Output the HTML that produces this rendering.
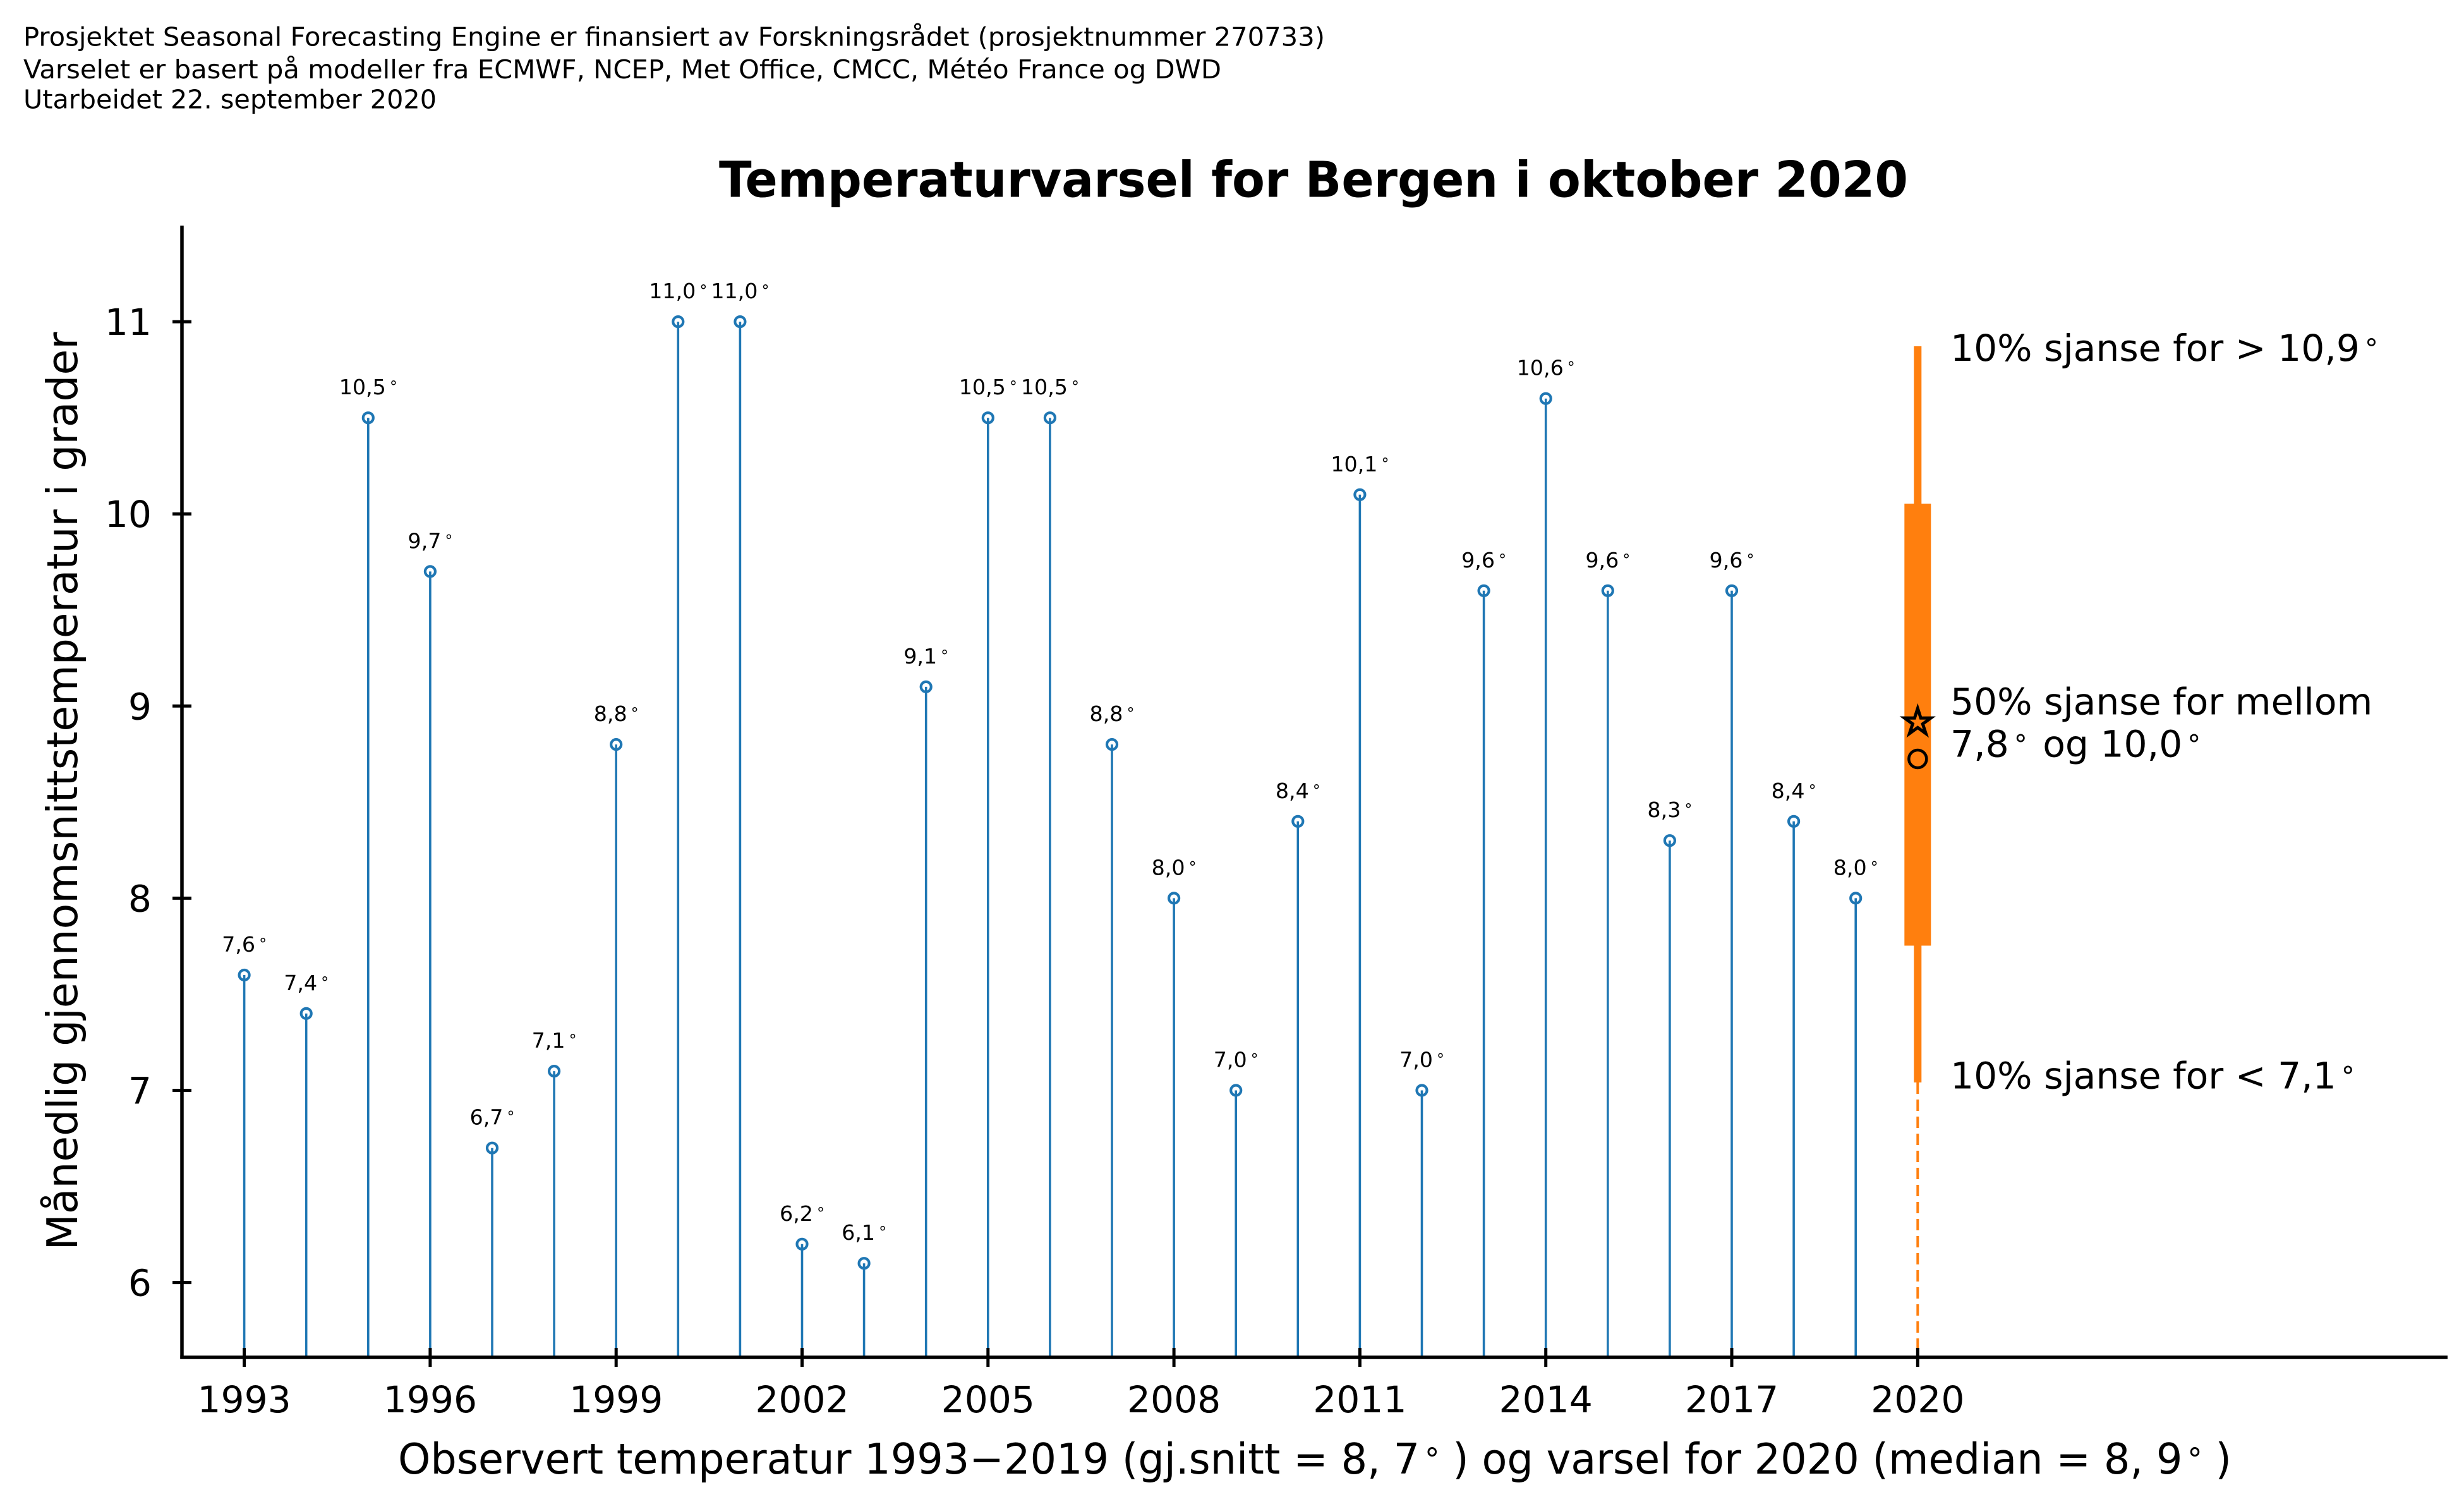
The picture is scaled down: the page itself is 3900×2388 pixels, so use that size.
<!DOCTYPE html>
<html>
<head>
<meta charset="utf-8">
<style>
html,body{margin:0;padding:0;background:#ffffff;}
svg{display:block;}
</style>
</head>
<body>
<svg width="3900" height="2388" viewBox="0 0 3900 2388" xmlns="http://www.w3.org/2000/svg" font-family="'DejaVu Sans', 'Liberation Sans', sans-serif">
<rect x="0" y="0" width="3900" height="2388" fill="#ffffff"/>

<!-- Header -->
<g font-size="41" fill="#000">
<text x="37" y="72.7" textLength="2060" lengthAdjust="spacingAndGlyphs">Prosjektet Seasonal Forecasting Engine er finansiert av Forskningsrådet (prosjektnummer 270733)</text>
<text x="37" y="124" textLength="1896" lengthAdjust="spacingAndGlyphs">Varselet er basert på modeller fra ECMWF, NCEP, Met Office, CMCC, Météo France og DWD</text>
<text x="37" y="171.7" textLength="654" lengthAdjust="spacingAndGlyphs">Utarbeidet 22. september 2020</text>
</g>

<!-- Title -->
<text x="2079" y="311.6" text-anchor="middle" font-size="78" font-weight="bold" textLength="1882" lengthAdjust="spacingAndGlyphs">Temperaturvarsel for Bergen i oktober 2020</text>

<!-- Stems -->
<path fill="none" stroke="#1f77b4" stroke-width="3.6" d="
M386.6 2148V1543.0 M484.7 2148V1603.9 M582.8 2148V661.2 M680.9 2148V904.4
M779.0 2148V1816.7 M877.1 2148V1695.1 M975.2 2148V1178.1 M1073.3 2148V509.1
M1171.4 2148V509.1 M1269.5 2148V1968.8 M1367.6 2148V1999.2 M1465.7 2148V1086.9
M1563.8 2148V661.2 M1661.9 2148V661.2 M1760.0 2148V1178.1 M1858.1 2148V1421.4
M1956.2 2148V1725.5 M2054.3 2148V1299.8 M2152.4 2148V782.8 M2250.5 2148V1725.5
M2348.6 2148V934.8 M2446.7 2148V630.7 M2544.8 2148V934.8 M2642.9 2148V1330.2
M2741.0 2148V934.8 M2839.1 2148V1299.8 M2937.2 2148V1421.4"/>

<!-- Markers -->
<g fill="none" stroke="#1f77b4" stroke-width="4.2">
<circle cx="386.6" cy="1543.0" r="8"/>
<circle cx="484.7" cy="1603.9" r="8"/>
<circle cx="582.8" cy="661.2" r="8"/>
<circle cx="680.9" cy="904.4" r="8"/>
<circle cx="779.0" cy="1816.7" r="8"/>
<circle cx="877.1" cy="1695.1" r="8"/>
<circle cx="975.2" cy="1178.1" r="8"/>
<circle cx="1073.3" cy="509.1" r="8"/>
<circle cx="1171.4" cy="509.1" r="8"/>
<circle cx="1269.5" cy="1968.8" r="8"/>
<circle cx="1367.6" cy="1999.2" r="8"/>
<circle cx="1465.7" cy="1086.9" r="8"/>
<circle cx="1563.8" cy="661.2" r="8"/>
<circle cx="1661.9" cy="661.2" r="8"/>
<circle cx="1760.0" cy="1178.1" r="8"/>
<circle cx="1858.1" cy="1421.4" r="8"/>
<circle cx="1956.2" cy="1725.5" r="8"/>
<circle cx="2054.3" cy="1299.8" r="8"/>
<circle cx="2152.4" cy="782.8" r="8"/>
<circle cx="2250.5" cy="1725.5" r="8"/>
<circle cx="2348.6" cy="934.8" r="8"/>
<circle cx="2446.7" cy="630.7" r="8"/>
<circle cx="2544.8" cy="934.8" r="8"/>
<circle cx="2642.9" cy="1330.2" r="8"/>
<circle cx="2741.0" cy="934.8" r="8"/>
<circle cx="2839.1" cy="1299.8" r="8"/>
<circle cx="2937.2" cy="1421.4" r="8"/>
</g>

<!-- Data labels -->
<g font-size="33.3" text-anchor="middle" fill="#000">
<text x="386.6" y="1506.0">7,6<tspan font-size="24" dx="6" dy="-4">°</tspan></text>
<text x="484.7" y="1566.9">7,4<tspan font-size="24" dx="6" dy="-4">°</tspan></text>
<text x="582.8" y="624.2">10,5<tspan font-size="24" dx="6" dy="-4">°</tspan></text>
<text x="680.9" y="867.4">9,7<tspan font-size="24" dx="6" dy="-4">°</tspan></text>
<text x="779.0" y="1779.7">6,7<tspan font-size="24" dx="6" dy="-4">°</tspan></text>
<text x="877.1" y="1658.1">7,1<tspan font-size="24" dx="6" dy="-4">°</tspan></text>
<text x="975.2" y="1141.1">8,8<tspan font-size="24" dx="6" dy="-4">°</tspan></text>
<text x="1073.3" y="472.1">11,0<tspan font-size="24" dx="6" dy="-4">°</tspan></text>
<text x="1171.4" y="472.1">11,0<tspan font-size="24" dx="6" dy="-4">°</tspan></text>
<text x="1269.5" y="1931.8">6,2<tspan font-size="24" dx="6" dy="-4">°</tspan></text>
<text x="1367.6" y="1962.2">6,1<tspan font-size="24" dx="6" dy="-4">°</tspan></text>
<text x="1465.7" y="1049.9">9,1<tspan font-size="24" dx="6" dy="-4">°</tspan></text>
<text x="1563.8" y="624.2">10,5<tspan font-size="24" dx="6" dy="-4">°</tspan></text>
<text x="1661.9" y="624.2">10,5<tspan font-size="24" dx="6" dy="-4">°</tspan></text>
<text x="1760.0" y="1141.1">8,8<tspan font-size="24" dx="6" dy="-4">°</tspan></text>
<text x="1858.1" y="1384.4">8,0<tspan font-size="24" dx="6" dy="-4">°</tspan></text>
<text x="1956.2" y="1688.5">7,0<tspan font-size="24" dx="6" dy="-4">°</tspan></text>
<text x="2054.3" y="1262.8">8,4<tspan font-size="24" dx="6" dy="-4">°</tspan></text>
<text x="2152.4" y="745.8">10,1<tspan font-size="24" dx="6" dy="-4">°</tspan></text>
<text x="2250.5" y="1688.5">7,0<tspan font-size="24" dx="6" dy="-4">°</tspan></text>
<text x="2348.6" y="897.8">9,6<tspan font-size="24" dx="6" dy="-4">°</tspan></text>
<text x="2446.7" y="593.7">10,6<tspan font-size="24" dx="6" dy="-4">°</tspan></text>
<text x="2544.8" y="897.8">9,6<tspan font-size="24" dx="6" dy="-4">°</tspan></text>
<text x="2642.9" y="1293.2">8,3<tspan font-size="24" dx="6" dy="-4">°</tspan></text>
<text x="2741.0" y="897.8">9,6<tspan font-size="24" dx="6" dy="-4">°</tspan></text>
<text x="2839.1" y="1262.8">8,4<tspan font-size="24" dx="6" dy="-4">°</tspan></text>
<text x="2937.2" y="1384.4">8,0<tspan font-size="24" dx="6" dy="-4">°</tspan></text>
</g>

<!-- Forecast box -->
<line x1="3035.3" y1="1713" x2="3035.3" y2="2146" stroke="#ff7f0e" stroke-width="4" stroke-dasharray="18 9"/>
<rect x="3029.3" y="548" width="12" height="1165" fill="#ff7f0e"/>
<rect x="3014.3" y="797" width="42" height="699.5" fill="#ff7f0e"/>
<polygon transform="translate(3035.3,1143)" points="0,-22 4.90,-6.75 20.92,-6.80 7.93,2.58 12.93,17.80 0,8.34 -12.93,17.80 -7.93,2.58 -20.92,-6.80 -4.90,-6.75" fill="#ff7f0e" stroke="#000" stroke-width="5" stroke-linejoin="miter"/>
<circle cx="3035.3" cy="1201" r="14" fill="none" stroke="#000" stroke-width="4.5"/>

<!-- Annotations -->
<g font-size="58.3" fill="#000">
<text x="3087" y="571">10% sjanse for &gt; 10,9<tspan font-size="42" dx="8" dy="-5">°</tspan></text>
<text x="3087" y="1130.5">50% sjanse for mellom</text>
<text x="3087" y="1197.5">7,8<tspan font-size="42" dx="8" dy="-5">°</tspan><tspan dy="5" dx="6"> og 10,0</tspan><tspan font-size="42" dx="8" dy="-5">°</tspan></text>
<text x="3087" y="1722.6">10% sjanse for &lt; 7,1<tspan font-size="42" dx="8" dy="-5">°</tspan></text>
</g>

<!-- Axes spines -->
<line x1="288" y1="357" x2="288" y2="2150.5" stroke="#000" stroke-width="5.5"/>
<line x1="285.3" y1="2148" x2="3874" y2="2148" stroke="#000" stroke-width="5.5"/>

<!-- Y ticks -->
<g stroke="#000" stroke-width="5">
<line x1="273" y1="2029.6" x2="303" y2="2029.6"/>
<line x1="273" y1="1725.5" x2="303" y2="1725.5"/>
<line x1="273" y1="1421.4" x2="303" y2="1421.4"/>
<line x1="273" y1="1117.3" x2="303" y2="1117.3"/>
<line x1="273" y1="813.2" x2="303" y2="813.2"/>
<line x1="273" y1="509.1" x2="303" y2="509.1"/>
</g>
<g font-size="58.3" text-anchor="end" fill="#000">
<text x="240" y="2050.6">6</text>
<text x="240" y="1746.5">7</text>
<text x="240" y="1442.4">8</text>
<text x="240" y="1138.3">9</text>
<text x="240" y="834.2">10</text>
<text x="240" y="530.1">11</text>
</g>

<!-- X ticks -->
<g stroke="#000" stroke-width="5">
<line x1="386.6" y1="2133" x2="386.6" y2="2163"/>
<line x1="680.9" y1="2133" x2="680.9" y2="2163"/>
<line x1="975.2" y1="2133" x2="975.2" y2="2163"/>
<line x1="1269.5" y1="2133" x2="1269.5" y2="2163"/>
<line x1="1563.8" y1="2133" x2="1563.8" y2="2163"/>
<line x1="1858.1" y1="2133" x2="1858.1" y2="2163"/>
<line x1="2152.4" y1="2133" x2="2152.4" y2="2163"/>
<line x1="2446.7" y1="2133" x2="2446.7" y2="2163"/>
<line x1="2741.0" y1="2133" x2="2741.0" y2="2163"/>
<line x1="3035.3" y1="2133" x2="3035.3" y2="2163"/>
</g>
<g font-size="58.3" text-anchor="middle" fill="#000">
<text x="386.6" y="2235">1993</text>
<text x="680.9" y="2235">1996</text>
<text x="975.2" y="2235">1999</text>
<text x="1269.5" y="2235">2002</text>
<text x="1563.8" y="2235">2005</text>
<text x="1858.1" y="2235">2008</text>
<text x="2152.4" y="2235">2011</text>
<text x="2446.7" y="2235">2014</text>
<text x="2741.0" y="2235">2017</text>
<text x="3035.3" y="2235">2020</text>
</g>

<!-- Axis labels -->
<text transform="translate(122,1252) rotate(-90)" x="0" y="0" text-anchor="middle" font-size="66.7" textLength="1453" lengthAdjust="spacingAndGlyphs">Månedlig gjennomsnittstemperatur i grader</text>

<text x="630" y="2332" font-size="66.7" textLength="2902" lengthAdjust="spacingAndGlyphs">Observert temperatur 1993−2019 (gj.snitt = 8, 7<tspan font-size="48" dx="8" dy="-6">°</tspan><tspan dy="6"> ) og varsel for 2020 (median = 8, 9</tspan><tspan font-size="48" dx="8" dy="-6">°</tspan><tspan dy="6"> )</tspan></text>

</svg>
</body>
</html>
